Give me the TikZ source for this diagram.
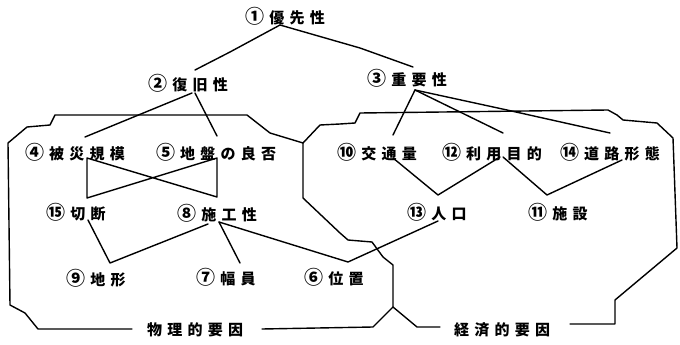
\documentclass[tikz,border=0pt]{standalone}
\usepackage{fontspec}
\newfontfamily\jp[LetterSpace=35]{Noto Sans CJK JP}
\newcommand{\cnum}[1]{{\fontsize{19}{15}\selectfont #1}\hspace{5pt}}
\tikzset{
  lbl/.style={inner sep=0pt, font=\jp\bfseries\fontsize{15}{15}\selectfont},
  ln/.style={line width=1.4pt, line join=round, line cap=round},
}
\begin{document}
\begin{tikzpicture}[x=1pt,y=-1pt]
\useasboundingbox (0,0) rectangle (680,345);
% labels
\node[lbl] (n1) at (285,16) {\cnum{①}優先性};
\node[lbl] (n2) at (188,83) {\cnum{②}復旧性};
\node[lbl] (n3) at (407,78) {\cnum{③}重要性};
\node[lbl] (n4) at (75,152) {\cnum{④}被災規模};
\node[lbl] (n5) at (216,152) {\cnum{⑤}地盤の良否};
\node[lbl] (n10) at (377,152) {\cnum{⑩}交通量};
\node[lbl] (n12) at (492,152) {\cnum{⑫}利用目的};
\node[lbl] (n14) at (610,152) {\cnum{⑭}道路形態};
\node[lbl] (n15) at (76,212) {\cnum{⑮}切断};
\node[lbl] (n8) at (217,213) {\cnum{⑧}施工性};
\node[lbl] (n13) at (437,212) {\cnum{⑬}人口};
\node[lbl] (n11) at (558,212) {\cnum{⑪}施設};
\node[lbl] (n9) at (96,278) {\cnum{⑨}地形};
\node[lbl] (n7) at (226,277) {\cnum{⑦}幅員};
\node[lbl] (n6) at (334,277) {\cnum{⑥}位置};
\node[lbl] (f1) at (195,330) {物理的要因};
\node[lbl] (f2) at (502,330) {経済的要因};
% tree connectors
\draw[ln] (280,25) -- (230,52) -- (195,70);
\draw[ln] (280,25) -- (360,48) -- (413,67);
\draw[ln] (192,93) -- (85,137);
\draw[ln] (195,93) -- (217,136);
\draw[ln] (415,90) -- (393,135);
\draw[ln] (415,90) -- (503,133);
\draw[ln] (415,90) -- (507,110) -- (610,133);
\draw[ln] (87,158) -- (87,198) -- (217,158) -- (217,197) -- cycle;
\draw[ln] (88,220) -- (110,263) -- (208,224);
\draw[ln] (219,222) -- (240,263);
\draw[ln] (219,222) -- (348,262) -- (438,221);
\draw[ln] (393,158) -- (438,195) -- (500,157);
\draw[ln] (503,157) -- (547,195) -- (622,160);
% physical factors boundary
\draw[ln] (303,143) -- (270,133) -- (247,115) -- (55,115) -- (50,125) -- (27,127) -- (8,143) -- (10,305) -- (25,313) -- (38,329) -- (132,329);
\draw[ln] (262,329) -- (373,327) -- (393,307) -- (393,265) -- (383,257) -- (372,242) -- (348,240) -- (340,233) -- (303,198) -- (303,143);
% economic factors boundary
\draw[ln] (303,143) -- (320,125) -- (340,124) -- (355,123) -- (360,113) -- (608,110) -- (617,115) -- (623,120) -- (657,123) -- (673,138) -- (677,248) -- (615,300) -- (615,324) -- (570,324);
\draw[ln] (440,327) -- (417,327) -- (393,307);
\end{tikzpicture}
\end{document}
